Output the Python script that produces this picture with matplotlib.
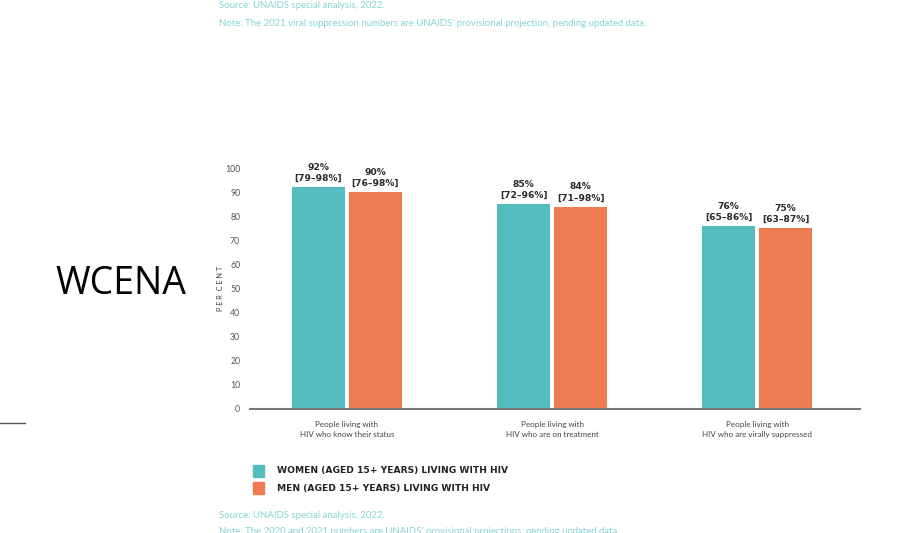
"""
WCENA: HIV testing and treatment cascade, women vs men (15+).
"""
import matplotlib
matplotlib.use('Agg')
import matplotlib.pyplot as plt
import matplotlib.patches as mpatches
import numpy as np

categories = ['People living with\nHIV who know their status',
              'People living with\nHIV who are on treatment',
              'People living with\nHIV who are virally suppressed']
women = [92, 85, 76]
men = [90, 84, 75]
women_ranges = ['[79–98%]', '[72–96%]', '[65–86%]']
men_ranges = ['[76–98%]', '[71–98%]', '[63–87%]']
y_ticks = [0, 10, 20, 30, 40, 50, 60, 70, 80, 90, 100]
legend_labels = ['WOMEN (AGED 15+ YEARS) LIVING WITH HIV',
                 'MEN (AGED 15+ YEARS) LIVING WITH HIV']

TEAL = '#52bdbc'
ORANGE = '#ef7b50'
NOTE = '#86d3d2'
W, H = 897, 533

fig = plt.figure(figsize=(W / 100, H / 100), dpi=100)
fig.patch.set_facecolor('white')
plt.rcParams['font.family'] = ['Lato', 'DejaVu Sans']

ax = fig.add_axes([250 / W, (H - 409) / H, 610 / W, 241 / H])
x = np.arange(len(categories))
w = 0.26
off = 0.139
b1 = ax.bar(x - off, women, w, color=TEAL)
b2 = ax.bar(x + off, men, w, color=ORANGE)

for bars, vals, rngs in [(b1, women, women_ranges), (b2, men, men_ranges)]:
    for bar, v, r in zip(bars, vals, rngs):
        ax.annotate(f'{v}%\n{r}', (bar.get_x() + bar.get_width() / 2, v),
                    xytext=(0, 3), textcoords='offset points',
                    ha='center', va='bottom', fontsize=6.6, fontweight='bold',
                    family=['DejaVu Sans'], color='#2a2a2a', linespacing=1.3,
                    annotation_clip=False)

ax.set_xlim(-0.473, 2.502)
ax.set_ylim(0, 100)
ax.set_yticks(y_ticks)
ax.set_yticklabels([str(t) for t in y_ticks], fontsize=6.3, color='#555555')
ax.set_xticks(x)
ax.set_xticklabels(categories, fontsize=5.8, color='#444444', linespacing=1.35)
ax.tick_params(length=0, pad=7)
ax.tick_params(axis='x', pad=9)
for s in ['top', 'right', 'left']:
    ax.spines[s].set_visible(False)
ax.spines['bottom'].set_color('#777777')
ax.spines['bottom'].set_linewidth(1.5)
ax.set_ylabel('P E R  C E N T', fontsize=5.3, color='#444444', labelpad=1)

# big region label and short rule on the left
fig.text(55 / W, 1 - 284 / H, 'WCENA', fontsize=27, family=['Open Sans', 'DejaVu Sans'],
         color='black', ha='left', va='center')
fig.add_artist(plt.Line2D([0, 25 / W], [1 - 423 / H, 1 - 423 / H],
                          color='#555555', lw=1))

# notes at the top
fig.text(219 / W, 1 - 6 / H, 'Source: UNAIDS special analysis, 2022.',
         fontsize=6.9, color=NOTE, va='center')
fig.text(219 / W, 1 - 23 / H,
         "Note: The 2021 viral suppression numbers are UNAIDS' provisional projection, pending updated data.",
         fontsize=6.9, color=NOTE, va='center')

# legend
for i, (lab, col) in enumerate(zip(legend_labels, [TEAL, ORANGE])):
    yc = 471 + i * 17
    fig.add_artist(mpatches.Rectangle((253 / W, 1 - (yc + 6) / H), 11 / W, 12 / H,
                                      color=col, transform=fig.transFigure))
    fig.text(277 / W, 1 - yc / H, lab, fontsize=6.6, fontweight='bold',
             family=['DejaVu Sans'], color='#222222', va='center')

# notes at the bottom
fig.text(219 / W, 1 - 516 / H, 'Source: UNAIDS special analysis, 2022.',
         fontsize=6.9, color=NOTE, va='center')
fig.text(219 / W, 1 - 532 / H,
         "Note: The 2020 and 2021 numbers are UNAIDS' provisional projections, pending updated data.",
         fontsize=6.9, color=NOTE, va='center')

plt.savefig('out.png', dpi=100)
plt.close()
